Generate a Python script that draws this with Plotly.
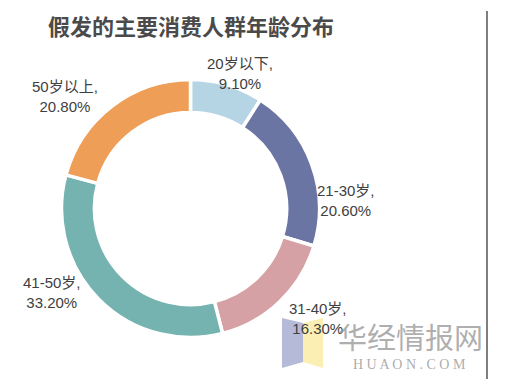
import math
import plotly.graph_objects as go

labels = ["20岁以下", "21-30岁", "31-40岁", "41-50岁", "50岁以上"]
values = [9.10, 20.60, 16.30, 33.20, 20.80]
colors = ["#b5d4e4", "#6b75a3", "#d5a1a4", "#75b3b1", "#ee9e57"]
title_text = "假发的主要消费人群年龄分布"

# label box centres (pixels from top-left) – text placement only
label_pos = [(240, 73), (346, 200), (318, 318), (52, 292), (65, 97)]

W, H = 514, 379
cx, cy, R = 190.5, 208.5, 129

fig = go.Figure()
fig.add_trace(go.Pie(
    labels=labels,
    values=values,
    sort=False,
    direction="clockwise",
    rotation=0,
    hole=0.745,
    marker=dict(colors=colors, line=dict(color="white", width=3.5)),
    textinfo="none",
    showlegend=False,
    hoverinfo="label+percent",
    domain=dict(x=[(cx - R) / W, (cx + R) / W], y=[(H - cy - R) / H, (H - cy + R) / H]),
))

for lab, val, (lx, ly) in zip(labels, values, label_pos):
    fig.add_annotation(text=f"{lab},<br>{val:.2f}%", xref="paper", yref="paper",
                       x=lx / W, y=(H - ly) / H, xanchor="center", yanchor="middle",
                       showarrow=False, align="center",
                       font=dict(family="Liberation Sans, Noto Sans CJK SC", size=15, color="#404040"))

# right border line
fig.add_shape(type="line", xref="paper", yref="paper",
              x0=487 / W, x1=487 / W, y0=0, y1=(H - 11) / H,
              line=dict(color="#555555", width=1.5))

# watermark logo shapes
def px(x, y):
    return f"{x / W:.4f},{(H - y) / H:.4f}"

fig.add_shape(type="path", xref="paper", yref="paper", layer="above",
              path=f"M {px(282, 318)} L {px(303, 323)} L {px(303, 362)} L {px(282, 368)} Z",
              fillcolor="rgba(130,140,190,0.6)", line=dict(width=0))
fig.add_shape(type="path", xref="paper", yref="paper", layer="above",
              path=f"M {px(303, 323)} L {px(323, 318)} L {px(323, 368)} L {px(303, 362)} Z",
              fillcolor="rgba(250,230,140,0.65)", line=dict(width=0))

fig.add_annotation(text="华经情报网", xref="paper", yref="paper",
                   x=410 / W, y=(H - 336) / H, xanchor="center", yanchor="middle", showarrow=False,
                   font=dict(family="Noto Sans CJK SC", size=29, color="rgba(140,140,140,0.7)"))
fig.add_annotation(text="H U A O N . C O M", xref="paper", yref="paper",
                   x=409 / W, y=(H - 364) / H, xanchor="center", yanchor="middle", showarrow=False,
                   font=dict(family="Liberation Serif", size=14, color="rgba(150,150,150,0.8)"))

fig.add_annotation(text=f"<b>{title_text}</b>", xref="paper", yref="paper",
                   x=46 / W, y=(H - 25) / H, xanchor="left", yanchor="middle", showarrow=False,
                   font=dict(family="Noto Sans CJK SC", size=22, color="#4a4a4a"))

fig.update_layout(
    width=W, height=H,
    margin=dict(l=0, r=0, t=0, b=0),
    paper_bgcolor="white",
    plot_bgcolor="white",
)

fig.write_html("out.html")
